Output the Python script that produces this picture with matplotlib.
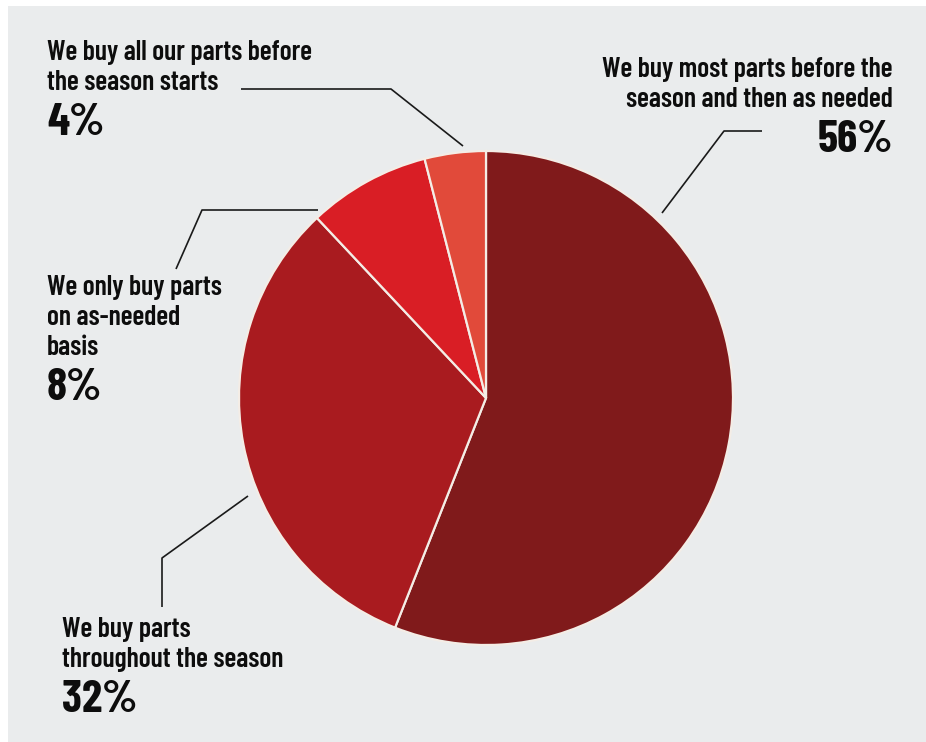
import matplotlib
matplotlib.use("Agg")
import matplotlib.pyplot as plt
from matplotlib.patches import Rectangle

W, H = 926, 742

labels = [
    "We buy most parts before the\nseason and then as needed",
    "We buy parts\nthroughout the season",
    "We only buy parts\non as-needed\nbasis",
    "We buy all our parts before\nthe season starts",
]
shares = [56, 32, 8, 4]
colors = ["#801a1b", "#a91b1f", "#d91e25", "#e14a3a"]

# label placement: anchor x, first baseline y, alignment (pixels, top-left origin)
label_pos = [(893, 77, "right"), (62, 637, "left"), (47, 295, "left"), (47, 60, "left")]
# leader polylines, pixel coords
leaders = [
    [(762, 131), (724, 131), (662, 213)],
    [(248, 496), (162, 558), (162, 607)],
    [(318, 210), (202, 210), (176, 269)],
    [(241, 89), (391, 89), (463, 146)],
]

FONT = "Barlow Condensed"
LINE = 30


def px(x, y):
    # pixel coords (origin top-left) -> data coords
    return x, H - y


fig = plt.figure(figsize=(W / 100, H / 100), dpi=100)
fig.patch.set_facecolor("white")
ax = fig.add_axes([0, 0, 1, 1])

ax.add_patch(Rectangle((8, 0), W - 8, H - 6, facecolor="#eaeced", edgecolor="none", zorder=0))

ax.pie(shares, colors=colors, startangle=90, counterclock=False,
       center=px(486, 398), radius=247, frame=True,
       wedgeprops=dict(edgecolor="#f4ede6", linewidth=1.6))
ax.set_xlim(0, W)
ax.set_ylim(0, H)
ax.set_aspect("equal")
ax.axis("off")

for lab, val, (x, y, ha), pts in zip(labels, shares, label_pos, leaders):
    lines = lab.split("\n")
    for k, ln in enumerate(lines):
        ax.text(*px(x, y + k * LINE), ln, ha=ha, va="baseline",
                fontfamily=FONT, fontweight=600, fontsize=20, color="#0d0d0d")
    ax.text(*px(x, y + (len(lines) - 1) * LINE + 45), f"{val}%", ha=ha, va="baseline",
            fontfamily=FONT, fontweight=700, fontsize=33, color="#0d0d0d")
    xs, ys = zip(*[px(a, b) for a, b in pts])
    ax.plot(xs, ys, color="#1a1a1a", lw=1.2, solid_capstyle="butt")

fig.savefig("out.png", dpi=100)
